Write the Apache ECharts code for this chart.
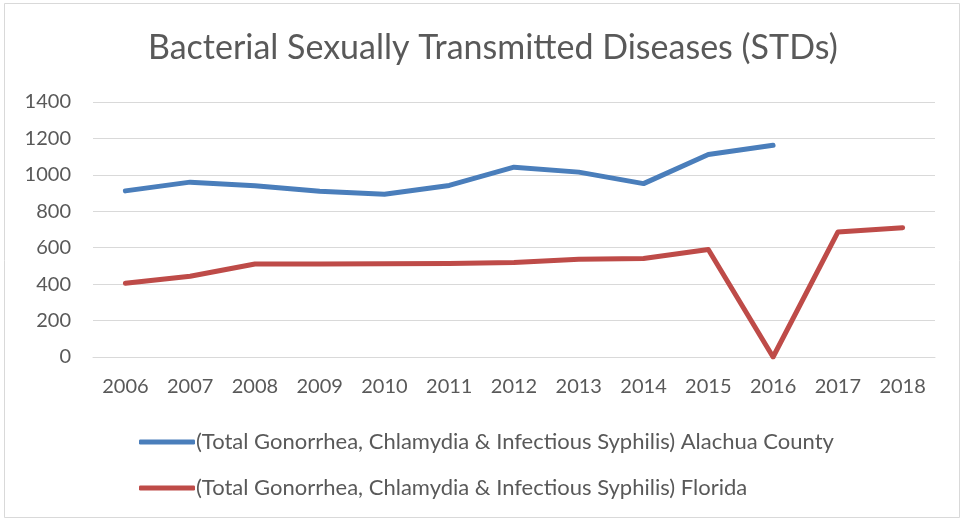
<!DOCTYPE html>
<html><head><meta charset="utf-8">
<script src="https://cdn.jsdelivr.net/npm/echarts@6/dist/echarts.min.js"></script>
<style>html,body{margin:0;padding:0;background:#fff}#c{width:964px;height:521px}</style>
</head><body><div id="c"></div>
<script>
var years = ['2006','2007','2008','2009','2010','2011','2012','2013','2014','2015','2016','2017','2018'];
var alachua = [912, 960, 940, 910, 893, 942, 1042, 1015, 952, 1112, 1162, null, null];
var florida = [405, 443, 511, 510, 512, 513, 519, 537, 541, 590, 0, 686, 710];
var seriesNames = ['(Total Gonorrhea, Chlamydia & Infectious Syphilis) Alachua County',
                   '(Total Gonorrhea, Chlamydia & Infectious Syphilis) Florida'];
var F = 'Lato';
var chart = echarts.init(document.getElementById('c'), null, {renderer:'canvas'});
chart.setOption({
  backgroundColor:'#fff',
  animation:false,
  graphic:[{type:'rect',shape:{x:4.5,y:3.5,width:955,height:514},style:{fill:'none',stroke:'#d9d9d9',lineWidth:1}}],
  title:{text:'Bacterial Sexually Transmitted Diseases (STDs)',left:143,top:26,
    textStyle:{fontFamily:F,fontSize:34,fontWeight:'normal',color:'#595959'}},
  grid:{left:93,right:29,top:102,bottom:164,containLabel:false},
  legend:{orient:'vertical',left:134,top:426,itemGap:24,itemWidth:56,itemHeight:5,icon:'roundRect',
    textStyle:{fontFamily:F,fontSize:22,color:'#595959',padding:[0,0,0,-4]},
    data:seriesNames},
  xAxis:{type:'category',data:years,boundaryGap:true,
    axisLine:{show:true,lineStyle:{color:'#d9d9d9',width:1}},axisTick:{show:false},
    axisLabel:{fontFamily:F,fontSize:20,color:'#595959',margin:20}},
  yAxis:{type:'value',min:0,max:1400,interval:200,
    axisLine:{show:false},axisTick:{show:false},
    splitLine:{lineStyle:{color:'#d9d9d9',width:1}},
    axisLabel:{fontFamily:F,fontSize:20,color:'#595959',margin:22,formatter:function(v){return String(v);}}},
  series:[
    {name:seriesNames[0],type:'line',data:alachua,symbol:'none',connectNulls:false,
      lineStyle:{color:'#4a7ebb',width:5,cap:'round',join:'round'},itemStyle:{color:'#4a7ebb'}},
    {name:seriesNames[1],type:'line',data:florida,symbol:'none',
      lineStyle:{color:'#be4b48',width:5,cap:'round',join:'round'},itemStyle:{color:'#be4b48'}}
  ]
});
</script></body></html>
